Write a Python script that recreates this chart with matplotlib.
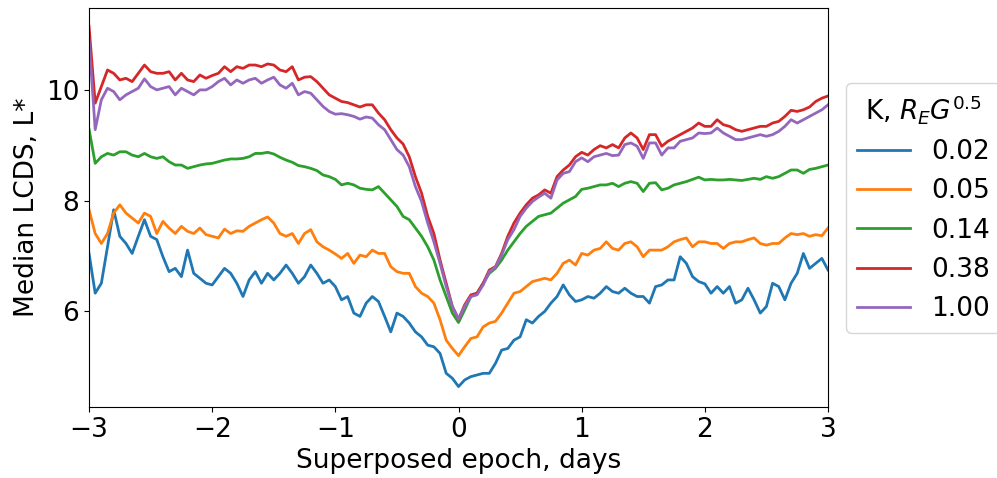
import numpy as np
import matplotlib
matplotlib.use('Agg')
import matplotlib.pyplot as plt

# superposed epoch grid, days (step 0.05)
days = np.linspace(-3, 3, 121)

k_labels = ['0.02', '0.05', '0.14', '0.38', '1.00']

lstar_002 = [
    7.05, 6.33, 6.51, 7.17, 7.84, 7.36, 7.23, 7.05, 7.36, 7.66,
    7.36, 7.30, 6.99, 6.72, 6.78, 6.63, 7.11, 6.69, 6.60, 6.51,
    6.48, 6.63, 6.78, 6.69, 6.51, 6.27, 6.57, 6.72, 6.51, 6.69,
    6.57, 6.69, 6.84, 6.69, 6.51, 6.63, 6.84, 6.69, 6.51, 6.57,
    6.45, 6.21, 6.27, 5.97, 5.91, 6.15, 6.27, 6.18, 5.91, 5.63,
    5.97, 5.91, 5.79, 5.63, 5.54, 5.39, 5.36, 5.24, 4.88, 4.79,
    4.64, 4.76, 4.82, 4.85, 4.88, 4.88, 5.06, 5.30, 5.33, 5.48,
    5.54, 5.85, 5.79, 5.91, 6.00, 6.15, 6.27, 6.48, 6.30, 6.18,
    6.21, 6.27, 6.24, 6.33, 6.45, 6.36, 6.33, 6.42, 6.33, 6.27,
    6.27, 6.15, 6.45, 6.48, 6.57, 6.57, 6.99, 6.87, 6.63, 6.54,
    6.50, 6.33, 6.45, 6.33, 6.45, 6.15, 6.21, 6.42, 6.21, 5.97,
    6.09, 6.51, 6.45, 6.21, 6.51, 6.69, 7.05, 6.78, 6.87, 6.96,
    6.75,
]

lstar_005 = [
    7.84, 7.41, 7.23, 7.41, 7.78, 7.93, 7.78, 7.69, 7.60, 7.78,
    7.72, 7.41, 7.63, 7.51, 7.41, 7.54, 7.45, 7.41, 7.51, 7.39,
    7.36, 7.33, 7.49, 7.41, 7.46, 7.45, 7.54, 7.60, 7.66, 7.71,
    7.60, 7.41, 7.36, 7.41, 7.23, 7.41, 7.48, 7.26, 7.17, 7.11,
    7.04, 6.96, 7.05, 6.87, 7.02, 6.99, 7.11, 7.05, 7.05, 6.81,
    6.72, 6.69, 6.69, 6.45, 6.33, 6.27, 6.15, 5.85, 5.48, 5.33,
    5.20, 5.36, 5.51, 5.54, 5.72, 5.79, 5.82, 5.97, 6.15, 6.33,
    6.36, 6.45, 6.54, 6.57, 6.60, 6.57, 6.69, 6.87, 6.93, 6.84,
    7.05, 7.02, 7.11, 7.14, 7.26, 7.14, 7.11, 7.23, 7.26, 7.17,
    6.99, 7.11, 7.11, 7.11, 7.17, 7.26, 7.30, 7.33, 7.17, 7.26,
    7.26, 7.23, 7.23, 7.14, 7.23, 7.26, 7.26, 7.30, 7.33, 7.23,
    7.20, 7.23, 7.23, 7.33, 7.41, 7.39, 7.41, 7.36, 7.39, 7.37,
    7.51,
]

lstar_014 = [
    9.30, 8.68, 8.80, 8.86, 8.83, 8.89, 8.89, 8.83, 8.80, 8.86,
    8.80, 8.77, 8.80, 8.71, 8.65, 8.65, 8.59, 8.62, 8.65, 8.67,
    8.68, 8.71, 8.74, 8.76, 8.76, 8.77, 8.80, 8.86, 8.86, 8.88,
    8.85, 8.79, 8.74, 8.70, 8.64, 8.62, 8.59, 8.55, 8.47, 8.44,
    8.39, 8.29, 8.32, 8.29, 8.23, 8.21, 8.20, 8.26, 8.14, 8.02,
    7.90, 7.72, 7.66, 7.51, 7.36, 7.17, 6.93, 6.57, 6.27, 5.97,
    5.80, 6.03, 6.27, 6.33, 6.51, 6.69, 6.78, 6.93, 7.11, 7.26,
    7.41, 7.54, 7.63, 7.72, 7.75, 7.78, 7.87, 7.96, 8.02, 8.08,
    8.21, 8.23, 8.26, 8.29, 8.29, 8.32, 8.26, 8.32, 8.35, 8.32,
    8.17, 8.32, 8.33, 8.20, 8.23, 8.29, 8.32, 8.35, 8.39, 8.43,
    8.38, 8.39, 8.38, 8.38, 8.39, 8.38, 8.37, 8.39, 8.41, 8.39,
    8.44, 8.41, 8.44, 8.50, 8.56, 8.56, 8.50, 8.57, 8.59, 8.62,
    8.65,
]

lstar_038 = [
    11.16, 9.77, 10.07, 10.37, 10.31, 10.19, 10.22, 10.16, 10.31, 10.46,
    10.34, 10.31, 10.31, 10.34, 10.19, 10.31, 10.19, 10.16, 10.28, 10.22,
    10.27, 10.31, 10.43, 10.34, 10.43, 10.40, 10.46, 10.46, 10.43, 10.48,
    10.46, 10.37, 10.34, 10.43, 10.19, 10.24, 10.25, 10.16, 10.04, 9.92,
    9.86, 9.80, 9.78, 9.74, 9.70, 9.74, 9.74, 9.59, 9.47, 9.29,
    9.14, 9.03, 8.80, 8.44, 8.14, 7.72, 7.41, 6.93, 6.51, 6.09,
    5.86, 6.12, 6.30, 6.33, 6.51, 6.75, 6.81, 7.05, 7.36, 7.60,
    7.78, 7.93, 8.05, 8.11, 8.20, 8.14, 8.44, 8.56, 8.65, 8.80,
    8.88, 8.83, 8.93, 9.00, 8.96, 9.02, 8.96, 9.14, 9.23, 9.14,
    8.93, 9.20, 9.20, 8.99, 9.08, 9.14, 9.20, 9.26, 9.32, 9.41,
    9.35, 9.35, 9.47, 9.38, 9.35, 9.29, 9.26, 9.29, 9.32, 9.35,
    9.35, 9.41, 9.44, 9.53, 9.64, 9.62, 9.65, 9.70, 9.80, 9.86,
    9.90,
]

lstar_100 = [
    10.92, 9.29, 9.83, 10.04, 9.98, 9.83, 9.92, 9.98, 10.04, 10.21,
    10.07, 10.01, 10.04, 10.07, 9.92, 10.04, 9.98, 9.92, 10.01, 10.01,
    10.07, 10.16, 10.22, 10.10, 10.19, 10.13, 10.19, 10.22, 10.13, 10.19,
    10.24, 10.10, 10.04, 10.13, 9.92, 9.98, 9.95, 9.83, 9.71, 9.62,
    9.57, 9.58, 9.56, 9.53, 9.48, 9.52, 9.50, 9.38, 9.29, 9.11,
    8.93, 8.83, 8.62, 8.26, 7.99, 7.60, 7.26, 6.87, 6.45, 6.09,
    5.86, 6.09, 6.27, 6.30, 6.48, 6.72, 6.80, 7.02, 7.30, 7.48,
    7.72, 7.87, 7.99, 8.07, 8.14, 8.05, 8.38, 8.50, 8.53, 8.71,
    8.78, 8.71, 8.80, 8.83, 8.86, 8.82, 8.83, 9.02, 9.05, 8.99,
    8.77, 9.05, 9.05, 8.83, 8.96, 8.96, 9.08, 9.11, 9.14, 9.23,
    9.22, 9.23, 9.32, 9.23, 9.17, 9.11, 9.11, 9.14, 9.17, 9.20,
    9.17, 9.20, 9.26, 9.35, 9.47, 9.41, 9.47, 9.53, 9.59, 9.65,
    9.74,
]

series = [lstar_002, lstar_005, lstar_014, lstar_038, lstar_100]

fig = plt.figure(figsize=(9.97, 4.78), dpi=100)
ax = fig.add_axes([0.0893, 0.1485, 0.7412, 0.8345])

for vals, lab in zip(series, k_labels):
    ax.plot(days, vals, lw=2, label=lab)

ax.set_xlim(-3, 3)
ax.set_ylim(4.27, 11.49)
ax.set_yticks([6, 8, 10])
ax.tick_params(labelsize=19)
ax.set_xlabel('Superposed epoch, days', fontsize=19)
ax.set_ylabel('Median LCDS, L*', fontsize=19)

ax.legend(title='K, $R_EG^{0.5}$', loc='center left', bbox_to_anchor=(1.007, 0.5),
          fontsize=19, title_fontsize=19)

fig.savefig('out.png', dpi=100)
